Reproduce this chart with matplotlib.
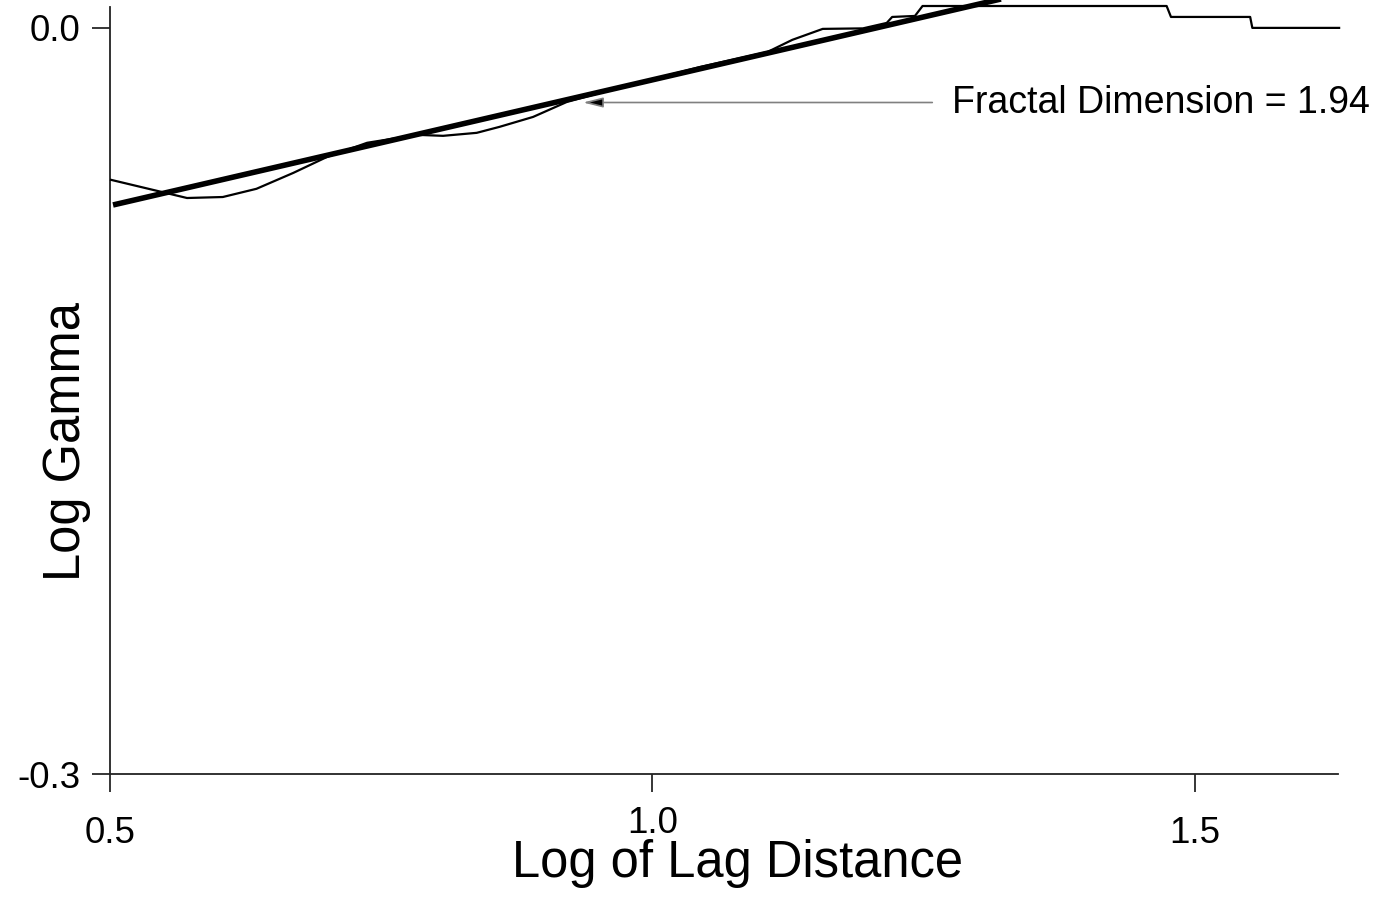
import matplotlib
matplotlib.use("Agg")
import matplotlib.pyplot as plt
import matplotlib.transforms as mtransforms

plt.rcParams['font.family'] = ['Liberation Sans', 'DejaVu Sans']

# Empirical log-variogram (thin line)
log_lag = [0.501, 0.571, 0.604, 0.635, 0.669, 0.700, 0.737, 0.783, 0.807, 0.838,
           0.859, 0.890, 0.921, 0.952, 0.998, 1.044, 1.106, 1.129, 1.157, 1.194,
           1.216, 1.221, 1.242, 1.249, 1.474, 1.478, 1.551, 1.553, 1.633]
log_gamma = [-0.0611, -0.0684, -0.0680, -0.0647, -0.0583, -0.0519, -0.0462, -0.0430,
             -0.0434, -0.0422, -0.0398, -0.0358, -0.0298, -0.0261, -0.0209, -0.0157,
             -0.0097, -0.0048, -0.0004, -0.0002, 0.0020, 0.0044, 0.0048, 0.0088,
             0.0088, 0.0044, 0.0044, 0.0000, 0.0000]

# Fitted regression line (thick line)
fit_x = [0.5028, 1.330]
fit_y = [-0.0712, 0.0125]

x_ticks = [0.5, 1.0, 1.5]
x_tick_labels = ["0.5", "1.0", "1.5"]
y_ticks = [-0.3, 0.0]
y_tick_labels = ["-0.3", "0.0"]

annot_text = "Fractal Dimension = 1.94"
arrow_tip = (0.936, -0.0300)
arrow_tail = (1.258, -0.0300)
text_pos = (1.276, -0.0302)

fig = plt.figure(figsize=(13.87, 8.97), dpi=100)
ax = fig.add_axes([0.0793, 0.1371, 0.9647 - 0.0793, 0.9922 - 0.1371])

ax.plot(log_lag, log_gamma, color='black', lw=1.6, clip_on=False, zorder=3)
ax.plot(fit_x, fit_y, color='black', lw=4.0, clip_on=False, solid_capstyle='butt', zorder=4)

ax.set_xlim(0.5, 1.632)
ax.set_ylim(-0.3, 0.0084)

ax.set_xticks(x_ticks)
ax.set_xticklabels(x_tick_labels)
ax.set_yticks(y_ticks)
ax.set_yticklabels(y_tick_labels)

for s in ['top', 'right']:
    ax.spines[s].set_visible(False)
for s in ['left', 'bottom']:
    ax.spines[s].set_linewidth(1.3)
    ax.spines[s].set_color('#222222')

ax.tick_params(axis='x', direction='out', length=13, width=1.1, pad=17, labelsize=26.5, colors='black')
ax.tick_params(axis='y', direction='out', length=13, width=1.1, pad=8.5, labelsize=26.5, colors='black')

ax.set_xlabel("Log of Lag Distance", fontsize=36.5)
ax.xaxis.set_label_coords(0.511, -0.0847)
ax.set_ylabel("Log Gamma", fontsize=36.5)
ax.yaxis.set_label_coords(-0.0158, 0.433)

ax.annotate('', xy=arrow_tip, xytext=arrow_tail,
            arrowprops=dict(arrowstyle='-|>,head_length=1.2,head_width=0.3',
                            ec='#808080', fc='black', lw=1.2,
                            shrinkA=0, shrinkB=0), zorder=5)
ax.text(text_pos[0], text_pos[1], annot_text, fontsize=27, va='center', ha='left')

# the middle x tick label sits slightly higher in the reference
lbl = ax.get_xticklabels()[1]
lbl.set_transform(lbl.get_transform() + mtransforms.ScaledTranslation(0, 0.1, fig.dpi_scale_trans))

fig.savefig("out.png", dpi=100)
